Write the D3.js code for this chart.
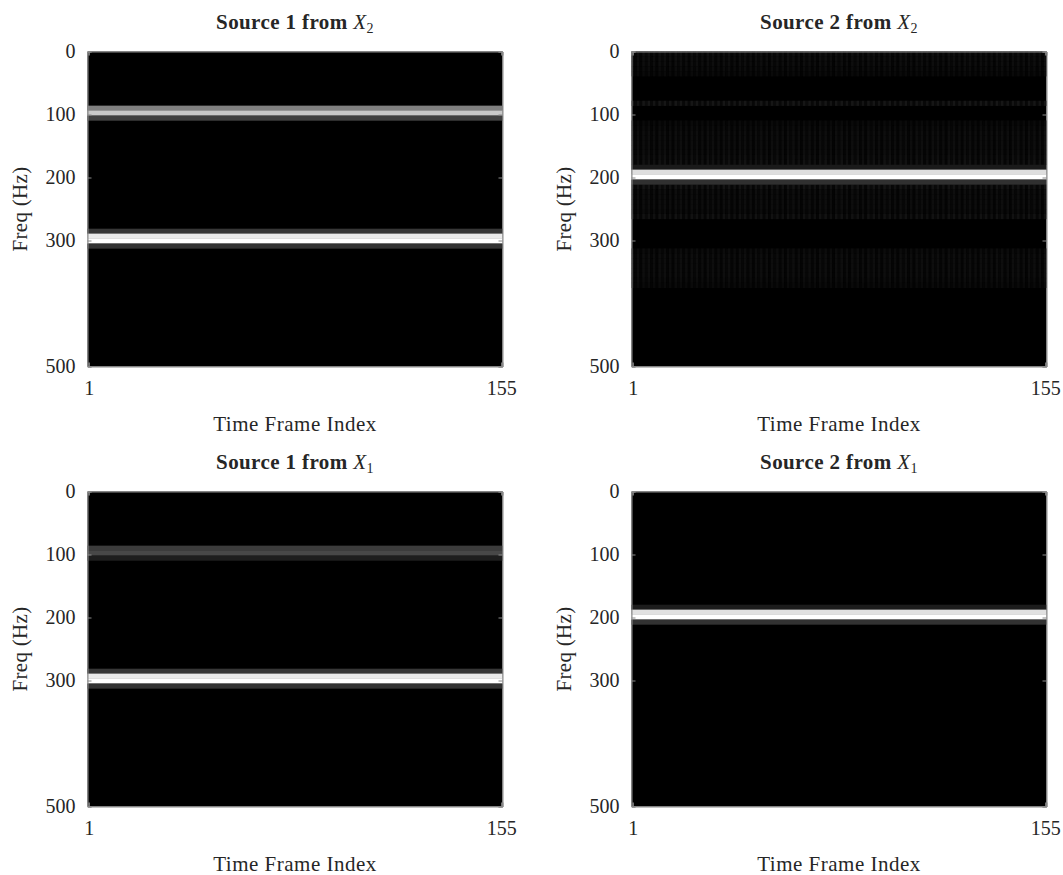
<!DOCTYPE html>
<html>
<head>
<meta charset="utf-8">
<script src="https://cdn.jsdelivr.net/npm/d3@7"></script>
<style>
  body { margin: 0; background: #fff; }
  text { font-family: "Palatino Linotype", "Book Antiqua", Palatino, "Liberation Serif", "DejaVu Serif", serif; fill: #262626; }
</style>
</head>
<body>
<svg id="chart" width="1063" height="875"></svg>
<script>
// axis data
const FREQ_MAX = 500;
const BIN_HZ = 7.8125;          // 1000 Hz / 128 point FFT
const N_FRAMES = 155;
const yTicks = [0, 100, 200, 300, 500];
const xTicks = [1, 155];

// bright bands: frequency bin index -> grey level (0..255), constant over time
const s1x2Bins   = [11, 12, 13, 36, 37, 38, 39];
const s1x2Levels = [128, 200, 64, 55, 235, 255, 50];

const s2x2Bins   = [23, 24, 25, 26];
const s2x2Levels = [26, 222, 255, 48];
// faint striped background of source 2 from X2 (bin -> grey level)
const s2x2FaintBins   = [0, 1, 2, 3, 4, 10, 14, 15, 16, 17, 18, 19, 20, 21, 22, 27, 28, 29, 30, 31, 32, 33, 40, 41, 42, 43, 44, 45, 46, 47];
const s2x2FaintLevels = [16, 14, 14, 12, 10, 22, 10, 12, 14, 14, 14, 14, 14, 16, 18, 20, 14, 14, 14, 14, 12, 18, 12, 14, 14, 14, 14, 14, 12, 10];
// stripe strength across consecutive time frames (repeating motif)
const stripeMotif = [1.0, 0.35, 0.9, 0.3, 1.0, 0.5];

const s1x1Bins   = [11, 12, 13, 36, 37, 38, 39];
const s1x1Levels = [60, 72, 30, 55, 235, 255, 50];

const s2x1Bins   = [23, 24, 25, 26];
const s2x1Levels = [28, 225, 255, 50];

const panels = [
  { title: "Source 1 from ", sub: "2", bins: s1x2Bins, levels: s1x2Levels, x: 87.5, y: 51.5 },
  { title: "Source 2 from ", sub: "2", bins: s2x2Bins, levels: s2x2Levels, x: 631.5, y: 51.5,
    faintBins: s2x2FaintBins, faintLevels: s2x2FaintLevels },
  { title: "Source 1 from ", sub: "1", bins: s1x1Bins, levels: s1x1Levels, x: 87.5, y: 491.5 },
  { title: "Source 2 from ", sub: "1", bins: s2x1Bins, levels: s2x1Levels, x: 631.5, y: 491.5 }
];

const W = 415, H = 315;
const svg = d3.select("#chart");
const grey = v => d3.rgb(v, v, v).formatHex();
const frames = d3.range(1, N_FRAMES + 1);

panels.forEach(p => {
  const g = svg.append("g").attr("transform", `translate(${p.x},${p.y})`);
  const x = d3.scaleLinear().domain([0.5, N_FRAMES + 0.5]).range([0, W]);
  const y = d3.scaleLinear().domain([0, FREQ_MAX]).range([0, H]);
  const rowH = y(BIN_HZ) - y(0) + 0.3;

  g.append("rect").attr("width", W).attr("height", H).attr("fill", "#000");

  // faint striped background cells
  if (p.faintBins) {
    const cells = [];
    p.faintBins.forEach((b, i) => frames.forEach(f =>
      cells.push({ b, f, v: p.faintLevels[i] * stripeMotif[(f - 1) % stripeMotif.length] })));
    g.selectAll("rect.faint")
      .data(cells)
      .enter().append("rect")
      .attr("class", "faint")
      .attr("x", d => x(d.f - 0.5)).attr("width", x(1.5) - x(0.5) + 0.2)
      .attr("y", d => y(d.b * BIN_HZ))
      .attr("height", rowH)
      .attr("fill", d => grey(Math.round(d.v)));
  }

  g.selectAll("rect.band")
    .data(p.bins.map((b, i) => ({ b, v: p.levels[i] })))
    .enter().append("rect")
    .attr("class", "band")
    .attr("x", x(0.5)).attr("width", x(N_FRAMES + 0.5) - x(0.5))
    .attr("y", d => y(d.b * BIN_HZ))
    .attr("height", rowH)
    .attr("fill", d => grey(d.v));

  // box + ticks
  const yAxisL = d3.axisLeft(y).tickValues(yTicks).tickSize(-4).tickPadding(12);
  const yAxisR = d3.axisRight(y).tickValues(yTicks).tickSize(-4).tickFormat("");
  const xAxisB = d3.axisBottom(x).tickValues(xTicks).tickSize(-4).tickPadding(14);
  const xAxisT = d3.axisTop(x).tickValues(xTicks).tickSize(-4).tickFormat("");

  const style = sel => {
    sel.selectAll("path.domain").attr("stroke", "#8a8a8a");
    sel.selectAll(".tick line").attr("stroke", "#8a8a8a");
    sel.selectAll(".tick text").attr("font-size", 20).attr("fill", "#262626");
    sel.attr("font-family", null);
  };
  g.append("g").call(yAxisL).call(style);
  g.append("g").attr("transform", `translate(${W},0)`).call(yAxisR).call(style);
  g.append("g").attr("transform", `translate(0,${H})`).call(xAxisB).call(style);
  g.append("g").call(xAxisT).call(style);

  // title
  const t = g.append("text").attr("x", W / 2).attr("y", -23)
    .attr("text-anchor", "middle").attr("font-size", 21).attr("letter-spacing", 0.4);
  t.append("tspan").attr("font-weight", "bold").text(p.title);
  t.append("tspan").attr("font-style", "italic").text("X");
  t.append("tspan").attr("font-size", 14).attr("dy", 4).text(p.sub);

  g.append("text").attr("x", W / 2).attr("y", H + 64)
    .attr("text-anchor", "middle").attr("font-size", 21).attr("letter-spacing", 0.5)
    .text("Time Frame Index");

  g.append("text")
    .attr("transform", `translate(-61,${H / 2}) rotate(-90)`)
    .attr("text-anchor", "middle").attr("font-size", 21).attr("letter-spacing", 0.3)
    .text("Freq (Hz)");
});
</script>
</body>
</html>
